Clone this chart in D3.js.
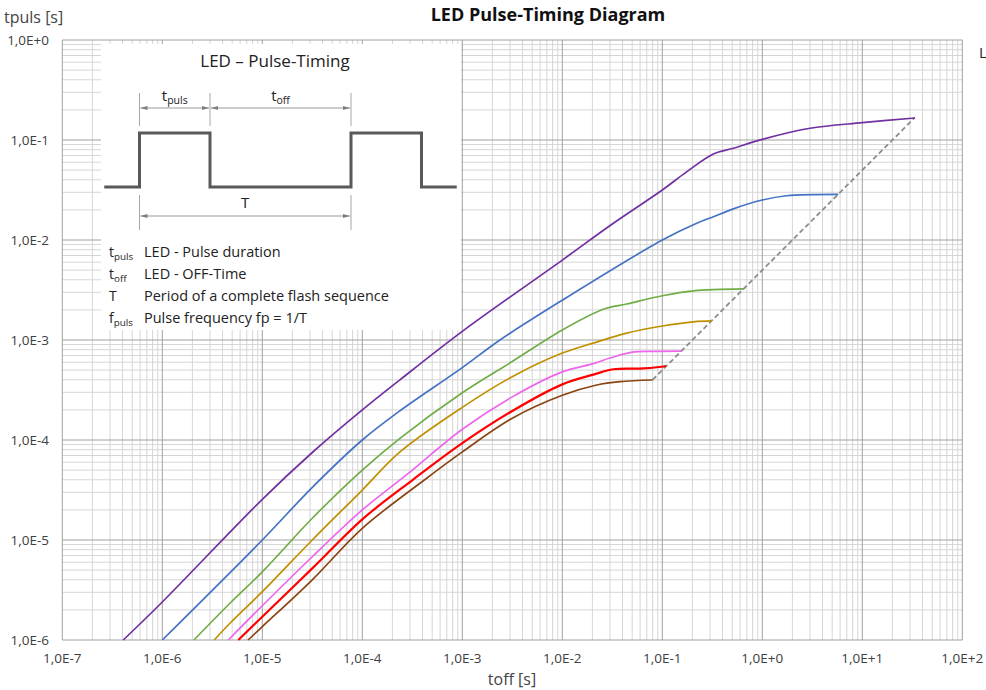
<!DOCTYPE html>
<html>
<head>
<meta charset="utf-8">
<script src="https://cdn.jsdelivr.net/npm/d3@7"></script>
<style>
  body { margin: 0; background: #fff; }
  svg { display: block; font-family: "Open Sans", "DejaVu Sans", sans-serif; }
</style>
</head>
<body>
<script>
// ---- data (toff [s], tpuls [s]) ----
const seriesNames = ["purple", "blue", "green", "gold", "pink", "red", "brown"];
const seriesColors = ["#7030a0", "#4472c4", "#70ad47", "#bf9000", "#ee66ee", "#ff0000", "#8b4513"];

const purple = [[4.07e-7,1e-6],[1e-6,2.4e-6],[1e-5,2.55e-5],[3.16e-5,7.5e-5],[1e-4,2e-4],[2.38e-4,4.0e-4],
  [1e-3,1.22e-3],[1e-2,6.3e-3],[3.24e-2,1.47e-2],[1e-1,3.16e-2],[0.175,0.048],[0.324,0.0724],
  [0.513,0.0826],[1,0.1016],[3,0.131],[10,0.149],[33.6,0.166]];
const blue = [[1e-6,1e-6],[1e-5,1e-5],[3.2e-5,3.4e-5],[1e-4,1e-4],[2.38e-4,1.96e-4],[1e-3,5.3e-4],
  [2.38e-3,1e-3],[1e-2,2.5e-3],[0.1,0.01],[0.221,0.0147],[0.324,0.0171],[0.513,0.0205],[1,0.0251],
  [1.75,0.0277],[5.75,0.0286]];
const green = [[2.07e-6,1e-6],[4.75e-6,2.33e-6],[1e-5,4.8e-6],[3.16e-5,1.65e-5],[1e-4,5e-5],[2.38e-4,1.04e-4],
  [1e-3,2.97e-4],[3.16e-3,6.1e-4],[1e-2,1.26e-3],[0.0257,2.03e-3],[0.044,2.29e-3],[0.1,2.77e-3],
  [0.204,3.1e-3],[0.646,3.24e-3]];
const gold = [[3.31e-6,1e-6],[4.75e-6,1.47e-6],[1e-5,3.04e-6],[3.16e-5,1e-5],[1e-4,3.16e-5],[2.38e-4,7.6e-5],
  [1e-3,2.12e-4],[3.16e-3,4.3e-4],[1e-2,7.4e-4],[0.0204,9.3e-4],[0.044,1.17e-3],[0.1,1.38e-3],
  [0.204,1.52e-3],[0.312,1.55e-3]];
const pink = [[4.57e-6,1e-6],[1e-5,2.2e-6],[3.16e-5,6.8e-6],[1e-4,2e-5],[2.78e-4,4.5e-5],[1e-3,1.28e-4],
  [3.16e-3,2.7e-4],[1e-2,4.8e-4],[0.0204,5.8e-4],[0.030,6.6e-4],[0.05,7.55e-4],[0.08,7.7e-4],[0.156,7.75e-4]];
const red = [[5.75e-6,1e-6],[1e-5,1.71e-6],[3.16e-5,5.2e-6],[1e-4,1.61e-5],[3.2e-4,4e-5],[1e-3,9.3e-5],
  [3.16e-3,1.95e-4],[1e-2,3.6e-4],[0.0204,4.5e-4],[0.0324,5.1e-4],[0.0646,5.2e-4],[0.109,5.5e-4]];
const brown = [[7.2e-6,1e-6],[1e-5,1.36e-6],[3.16e-5,4e-6],[1e-4,1.31e-5],[4.2e-4,4e-5],[1e-3,7.6e-5],
  [3.16e-3,1.65e-4],[1e-2,2.8e-4],[0.0221,3.55e-4],[0.0378,3.83e-4],[0.080,3.98e-4]];
const seriesData = [purple, blue, green, gold, pink, red, brown];

// dashed line through the end points
const endLine = [[0.080,4.0e-4],[33.6,0.168]];

const xTickExp = [-7,-6,-5,-4,-3,-2,-1,0,1,2];
const yTickExp = [-6,-5,-4,-3,-2,-1,0];

// ---- layout ----
const W = 986, H = 690;
const m = {left: 62.3, top: 40};
const pw = 900, ph = 600;

const svg = d3.select("body").append("svg")
  .attr("width", W).attr("height", H);

const x = d3.scaleLog().domain([1e-7, 1e2]).range([m.left, m.left + pw]);
const y = d3.scaleLog().domain([1e-6, 1e0]).range([m.top + ph, m.top]);

const fmt = e => "1,0E" + (e >= 0 ? "+" + e : e);

// grid
const grid = svg.append("g");
const minorX = [], minorY = [];
for (let e = -7; e < 2; e++) for (let k = 2; k < 10; k++) minorX.push(k * Math.pow(10, e));
for (let e = -6; e < 0; e++) for (let k = 2; k < 10; k++) minorY.push(k * Math.pow(10, e));

grid.selectAll(".mx").data(minorX).enter().append("line")
  .attr("x1", d => x(d)).attr("x2", d => x(d))
  .attr("y1", m.top).attr("y2", m.top + ph)
  .attr("stroke", "#d6d6d6").attr("stroke-width", 1);
grid.selectAll(".my").data(minorY).enter().append("line")
  .attr("y1", d => y(d)).attr("y2", d => y(d))
  .attr("x1", m.left).attr("x2", m.left + pw)
  .attr("stroke", "#d6d6d6").attr("stroke-width", 1);
grid.selectAll(".Mx").data(xTickExp).enter().append("line")
  .attr("x1", d => x(Math.pow(10, d))).attr("x2", d => x(Math.pow(10, d)))
  .attr("y1", m.top).attr("y2", m.top + ph)
  .attr("stroke", "#a0a0a0").attr("stroke-width", 1);
grid.selectAll(".My").data(yTickExp).enter().append("line")
  .attr("y1", d => y(Math.pow(10, d))).attr("y2", d => y(Math.pow(10, d)))
  .attr("x1", m.left).attr("x2", m.left + pw)
  .attr("stroke", "#a0a0a0").attr("stroke-width", 1);

// tick labels
svg.append("g").selectAll("text").data(xTickExp).enter().append("text")
  .attr("x", d => x(Math.pow(10, d))).attr("y", 663)
  .attr("text-anchor", "middle").attr("font-size", 13.5).attr("fill", "#404040")
  .text(fmt);
svg.append("g").selectAll("text").data(yTickExp).enter().append("text")
  .attr("x", 49).attr("y", d => y(Math.pow(10, d)) + 5)
  .attr("text-anchor", "end").attr("font-size", 13.5).attr("fill", "#404040")
  .text(fmt);

// titles
svg.append("text").attr("x", 548).attr("y", 21).attr("text-anchor", "middle")
  .attr("font-size", 18).attr("font-weight", "bold").attr("fill", "#111")
  .text("LED Pulse-Timing Diagram");
svg.append("text").attr("x", 4).attr("y", 23).attr("font-size", 16).attr("fill", "#444")
  .text("tpuls [s]");
svg.append("text").attr("x", 512).attr("y", 685).attr("text-anchor", "middle")
  .attr("font-size", 16).attr("fill", "#444").text("toff [s]");
svg.append("text").attr("x", 979).attr("y", 58).attr("font-size", 15).attr("fill", "#222").text("L");

// inset box
const inset = svg.append("g");
inset.append("rect").attr("x", 101).attr("y", 44).attr("width", 360).attr("height", 286).attr("fill", "#fff");

// curves
const line = d3.line().x(d => x(d[0])).y(d => y(d[1])).curve(d3.curveCatmullRom.alpha(0.5));
svg.append("path").datum(endLine)
  .attr("d", d3.line().x(d => x(d[0])).y(d => y(d[1])))
  .attr("fill", "none").attr("stroke", "#8c8c8c").attr("stroke-width", 1.8)
  .attr("stroke-dasharray", "5,3");
svg.append("g").selectAll("path").data(seriesData).enter().append("path")
  .attr("d", line)
  .attr("fill", "none")
  .attr("stroke", (d, i) => seriesColors[i])
  .attr("stroke-width", (d, i) => seriesNames[i] === "red" ? 2.2 : 1.7);

// inset content
inset.append("text").attr("x", 275).attr("y", 67).attr("text-anchor", "middle")
  .attr("font-size", 17).attr("fill", "#222").text("LED \u2013 Pulse-Timing");

const ts = d3.scaleLinear().domain([0, 1]).range([139.5, 210]);
const lv = d3.scaleLinear().domain([0, 1]).range([187, 133]);
const wave = [[-0.5,0],[0,0],[0,1],[1,1],[1,0],[3,0],[3,1],[4,1],[4,0],[4.5,0]];
inset.append("path").datum(wave)
  .attr("d", d3.line().x(d => ts(d[0])).y(d => lv(d[1])))
  .attr("fill", "none").attr("stroke", "#595959").attr("stroke-width", 3);

const defs = svg.append("defs");
defs.append("marker").attr("id", "ah").attr("viewBox", "0 0 10 10")
  .attr("refX", 10).attr("refY", 5).attr("markerWidth", 7).attr("markerHeight", 7)
  .attr("orient", "auto-start-reverse")
  .append("path").attr("d", "M0,2 L10,5 L0,8 Z").attr("fill", "#7f7f7f");

const ext = [[0, 93, 126], [1, 93, 126], [3, 93, 126], [0, 195, 230], [3, 195, 230]];
inset.selectAll(".ext").data(ext).enter().append("line")
  .attr("x1", d => ts(d[0])).attr("x2", d => ts(d[0]))
  .attr("y1", d => d[1]).attr("y2", d => d[2])
  .attr("stroke", "#a6a6a6").attr("stroke-width", 1);

const arrows = [[0, 1, 108], [1, 3, 108], [0, 3, 216]];
inset.selectAll(".arr").data(arrows).enter().append("line")
  .attr("x1", d => ts(d[0]) + 1).attr("x2", d => ts(d[1]) - 1)
  .attr("y1", d => d[2]).attr("y2", d => d[2])
  .attr("stroke", "#999").attr("stroke-width", 1)
  .attr("marker-start", "url(#ah)").attr("marker-end", "url(#ah)");

function sub(g, xx, yy, main, s, size, anchor) {
  const t = g.append("text").attr("x", xx).attr("y", yy).attr("font-size", size)
    .attr("fill", "#222").attr("text-anchor", anchor || "start");
  t.append("tspan").text(main);
  if (s) t.append("tspan").attr("font-size", size * 0.7).attr("dy", 3).text(s);
  return t;
}
sub(inset, ts(0.5), 101, "t", "puls", 15, "middle");
sub(inset, ts(2), 101, "t", "off", 15, "middle");
sub(inset, ts(1.5), 208, "T", null, 15, "middle");

const legendRows = [["t", "puls", "LED - Pulse duration"], ["t", "off", "LED - OFF-Time"],
  ["T", null, "Period of a complete flash sequence"], ["f", "puls", "Pulse frequency fp = 1/T"]];
legendRows.forEach((r, i) => {
  const yy = 257 + i * 22;
  sub(inset, 109, yy, r[0], r[1], 14);
  inset.append("text").attr("x", 144).attr("y", yy).attr("font-size", 14.5)
    .attr("fill", "#222").text(r[2]);
});
</script>
</body>
</html>
